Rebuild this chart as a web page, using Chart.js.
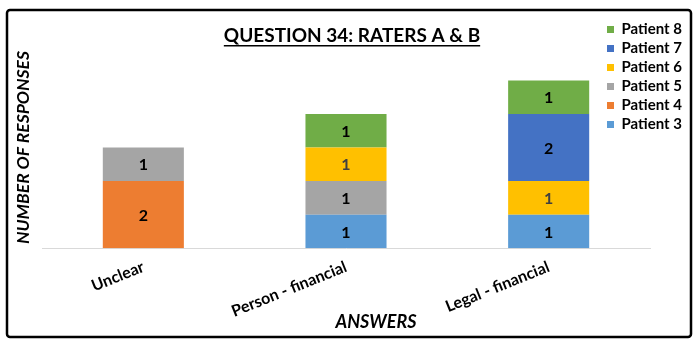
<!DOCTYPE html>
<html>
<head>
<meta charset="utf-8">
<script src="https://cdn.jsdelivr.net/npm/chart.js@4.4.1/dist/chart.umd.min.js"></script>
<style>
  html, body { margin: 0; padding: 0; background: #fff; }
</style>
</head>
<body>
<canvas id="questionChart" width="700" height="345"></canvas>
<script>
// Data
const answers = ["Unclear", "Person - financial", "Legal - financial"];
const patient3 = [0, 1, 1];
const patient4 = [2, 0, 0];
const patient5 = [1, 1, 0];
const patient6 = [0, 1, 1];
const patient7 = [0, 0, 2];
const patient8 = [0, 1, 1];
const seriesNames = ["Patient 3", "Patient 4", "Patient 5", "Patient 6", "Patient 7", "Patient 8"];
const seriesValues = [patient3, patient4, patient5, patient6, patient7, patient8];
const seriesColors = ["#5B9BD5", "#ED7D31", "#A5A5A5", "#FFC000", "#4472C4", "#70AD47"];
const valueLabelColors = ["#000", "#000", "#000", "#404040", "#000", "#000"];
const titleText = "QUESTION 34: RATERS A & B";
const yTitleText = "NUMBER OF RESPONSES";
const xTitleText = "ANSWERS";

Chart.defaults.font.family = "Lato, 'Open Sans', sans-serif";
Chart.defaults.color = "#000";

// white background + black rounded frame
const framePlugin = {
  id: "frame",
  beforeDraw(chart) {
    const ctx = chart.ctx;
    ctx.save();
    ctx.fillStyle = "#fff";
    ctx.fillRect(0, 0, chart.width, chart.height);
    ctx.lineWidth = 2.5;
    ctx.strokeStyle = "#000";
    ctx.beginPath();
    ctx.roundRect(7, 10, 684, 327, 3);
    ctx.stroke();
    ctx.restore();
  },
};

// legend sits over the empty top-right of the plot
const legendPlacePlugin = {
  id: "legendPlace",
  afterLayout(chart) {
    const lg = chart.legend;
    lg.left = 603;
    lg.top = 18;
    lg.right = 699;
    lg.bottom = 165;
    lg.width = lg.right - lg.left;
    lg.height = lg.bottom - lg.top;
  },
};

// underline under the title, plus the x axis title
const textExtrasPlugin = {
  id: "textExtras",
  afterDraw(chart) {
    const ctx = chart.ctx;
    const tb = chart.titleBlock;
    const font = chart.options.plugins.title.font;
    ctx.save();
    ctx.font = "bold " + font.size + "px " + Chart.defaults.font.family;
    const w = ctx.measureText(titleText).width;
    const cx = (tb.left + tb.right) / 2;
    const y = tb.top + tb.options.padding.top + font.size * 1.2 / 2 + font.size * 0.55;
    ctx.strokeStyle = "#000";
    ctx.lineWidth = 1.5;
    ctx.beginPath();
    ctx.moveTo(cx - w / 2, y);
    ctx.lineTo(cx + w / 2, y);
    ctx.stroke();

    ctx.font = "italic bold 18px " + Chart.defaults.font.family;
    ctx.fillStyle = "#000";
    ctx.textAlign = "center";
    ctx.textBaseline = "middle";
    ctx.fillText(xTitleText, 376, 322);
    ctx.restore();
  },
};

// value labels in the middle of each segment
const segmentLabelsPlugin = {
  id: "segmentLabels",
  afterDatasetsDraw(chart) {
    const ctx = chart.ctx;
    ctx.save();
    ctx.font = "bold 16px " + Chart.defaults.font.family;
    ctx.textAlign = "center";
    ctx.textBaseline = "middle";
    chart.data.datasets.forEach((ds, i) => {
      const meta = chart.getDatasetMeta(i);
      meta.data.forEach((bar, j) => {
        const v = ds.data[j];
        if (!v) return;
        const c = bar.getCenterPoint();
        ctx.fillStyle = valueLabelColors[i];
        ctx.fillText(String(v), c.x, c.y + 1);
      });
    });
    ctx.restore();
  },
};

const datasets = seriesNames.map((name, i) => ({
  label: name,
  data: seriesValues[i],
  backgroundColor: seriesColors[i],
  borderWidth: 0,
  categoryPercentage: 1,
  barPercentage: 0.4,
}));

new Chart(document.getElementById("questionChart"), {
  type: "bar",
  data: { labels: answers, datasets: datasets },
  options: {
    responsive: false,
    animation: false,
    layout: { padding: { top: 10, left: 5, right: 1, bottom: 15 } },
    plugins: {
      title: {
        display: true,
        text: titleText,
        font: { size: 19, weight: "bold" },
        color: "#000",
        padding: { top: 14, bottom: 0 },
      },
      legend: {
        display: true,
        position: "right",
        align: "start",
        fullSize: false,
        maxWidth: 49,
        reverse: true,
        labels: {
          boxWidth: 7,
          boxHeight: 7,
          padding: 4,
          textAlign: "left",
          font: { size: 15, weight: "bold" },
          color: "#000",
        },
      },
      tooltip: { enabled: false },
    },
    scales: {
      x: {
        stacked: true,
        grid: { display: false, drawTicks: false },
        border: { display: true, color: "#d9d9d9", width: 1 },
        ticks: {
          minRotation: 22,
          maxRotation: 22,
          padding: 9,
          font: { size: 16, weight: "bold" },
          color: "#000",
        },
      },
      y: {
        stacked: true,
        min: 0,
        max: 6,
        grid: { display: false, drawTicks: false },
        border: { display: false },
        ticks: { display: false },
        title: {
          display: true,
          text: yTitleText,
          padding: { top: 8, bottom: 8 },
          font: { size: 17.5, weight: "bold", style: "italic" },
          color: "#000",
        },
      },
    },
  },
  plugins: [framePlugin, legendPlacePlugin, textExtrasPlugin, segmentLabelsPlugin],
});
</script>
</body>
</html>
